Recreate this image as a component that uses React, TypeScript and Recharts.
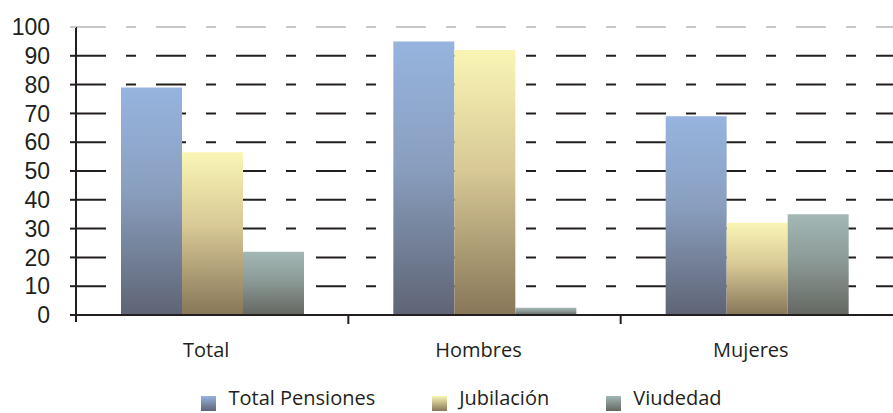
import { BarChart, Bar, XAxis, YAxis, CartesianGrid, ReferenceLine } from 'recharts';

const CATEGORIES = ['Total', 'Hombres', 'Mujeres'];
const TOTAL_PENSIONES = [79, 95, 69];
const JUBILACION = [56.5, 92, 32];
const VIUDEDAD = [22, 2.5, 35];
const Y_TICKS = [0, 10, 20, 30, 40, 50, 60, 70, 80, 90, 100];
const GRID_VALUES = [10, 20, 30, 40, 50, 60, 70, 80, 90];

const SERIES = [
    { key: 'total', name: 'Total Pensiones', top: '#96B4DF', mid: '#8A9FBF', bottom: '#5E6474' },
    { key: 'jub', name: 'Jubilación', top: '#FAF5B5', mid: '#D8C996', bottom: '#877658' },
    { key: 'viu', name: 'Viudedad', top: '#A3B8B5', mid: '#8C9B97', bottom: '#656761' },
];

const data = CATEGORIES.map((name, i) => ({
    name,
    total: TOTAL_PENSIONES[i],
    jub: JUBILACION[i],
    viu: VIUDEDAD[i],
}));

const INK = '#231f20';

function YTick(props: any) {
    const { x, y, payload } = props;
    const top = payload.value === 100;
    return (
        <g>
            <line x1={x + 20} x2={x + 26} y1={y} y2={y} stroke={top ? '#c8c8c8' : INK} strokeWidth={2} />
            {payload.value === 0 ? (
                <line x1={x + 26} x2={x + 26} y1={y} y2={y + 7} stroke={INK} strokeWidth={2} />
            ) : null}
            <text x={x} y={y} dy="0.36em" textAnchor="end" fill={INK}
                style={{ fontFamily: '"Liberation Sans", Arial, sans-serif', fontSize: 23 }}>
                {payload.value}
            </text>
        </g>
    );
}

function XTick(props: any) {
    const { x, y, payload, index } = props;
    const off = payload.offset;
    return (
        <g>
            {index < CATEGORIES.length - 1 && off ? (
                <line x1={x + off} x2={x + off} y1={y - 28} y2={y - 19} stroke={INK} strokeWidth={2} />
            ) : null}
            <text x={x - 6} y={y} dy="0.71em" textAnchor="middle" fill={INK}
                style={{ fontFamily: '"Open Sans", sans-serif', fontSize: 20 }}>
                {payload.value}
            </text>
        </g>
    );
}

export default function App() {
    return (
        <div style={{ position: 'absolute', left: 0, top: 0, width: 893, height: 413, background: '#fff' }}>
            <BarChart width={893} height={413} data={data}
                margin={{ top: 27, right: 0, left: 0, bottom: 58 }}
                barCategoryGap={45} barGap={0}>
                <defs>
                    {SERIES.map((s) => (
                        <linearGradient key={s.key} id={`grad-${s.key}`} x1="0" y1="0" x2="0" y2="1">
                            <stop offset="0%" stopColor={s.top} />
                            <stop offset="45%" stopColor={s.mid} />
                            <stop offset="100%" stopColor={s.bottom} />
                        </linearGradient>
                    ))}
                </defs>
                <CartesianGrid vertical={false} horizontalValues={GRID_VALUES}
                    stroke={INK} strokeWidth={2} strokeDasharray="30 20 10 20" />
                <ReferenceLine y={100} stroke="#c8c8c8" strokeWidth={2} strokeDasharray="30 20 10 20" />
                <YAxis width={76} domain={[0, 100]} ticks={Y_TICKS} interval={0}
                    axisLine={{ stroke: INK, strokeWidth: 2 }} tickLine={false}
                    tickSize={6} tickMargin={20} tick={<YTick />} />
                <XAxis dataKey="name" height={40} axisLine={{ stroke: INK, strokeWidth: 2 }}
                    tickLine={false} tickSize={8} tickMargin={20} tick={<XTick />} />
                {SERIES.map((s) => (
                    <Bar key={s.key} dataKey={s.key} name={s.name} fill={`url(#grad-${s.key})`}
                        isAnimationActive={false} />
                ))}
            </BarChart>

            {/* Legend */}
            <div style={{
                position: 'absolute', left: 30, right: 0, top: 384, display: 'flex', justifyContent: 'center',
                gap: 57, fontFamily: '"Open Sans", sans-serif', fontSize: 20, color: INK,
            }}>
                {SERIES.map((s) => (
                    <div key={s.key} style={{ display: 'flex', alignItems: 'flex-end', gap: 12 }}>
                        <div style={{
                            width: 15, height: 15, marginBottom: 1,
                            background: `linear-gradient(${s.top}, ${s.bottom})`,
                        }} />
                        <span style={{ lineHeight: '28px' }}>{s.name}</span>
                    </div>
                ))}
            </div>
        </div>
    );
}
